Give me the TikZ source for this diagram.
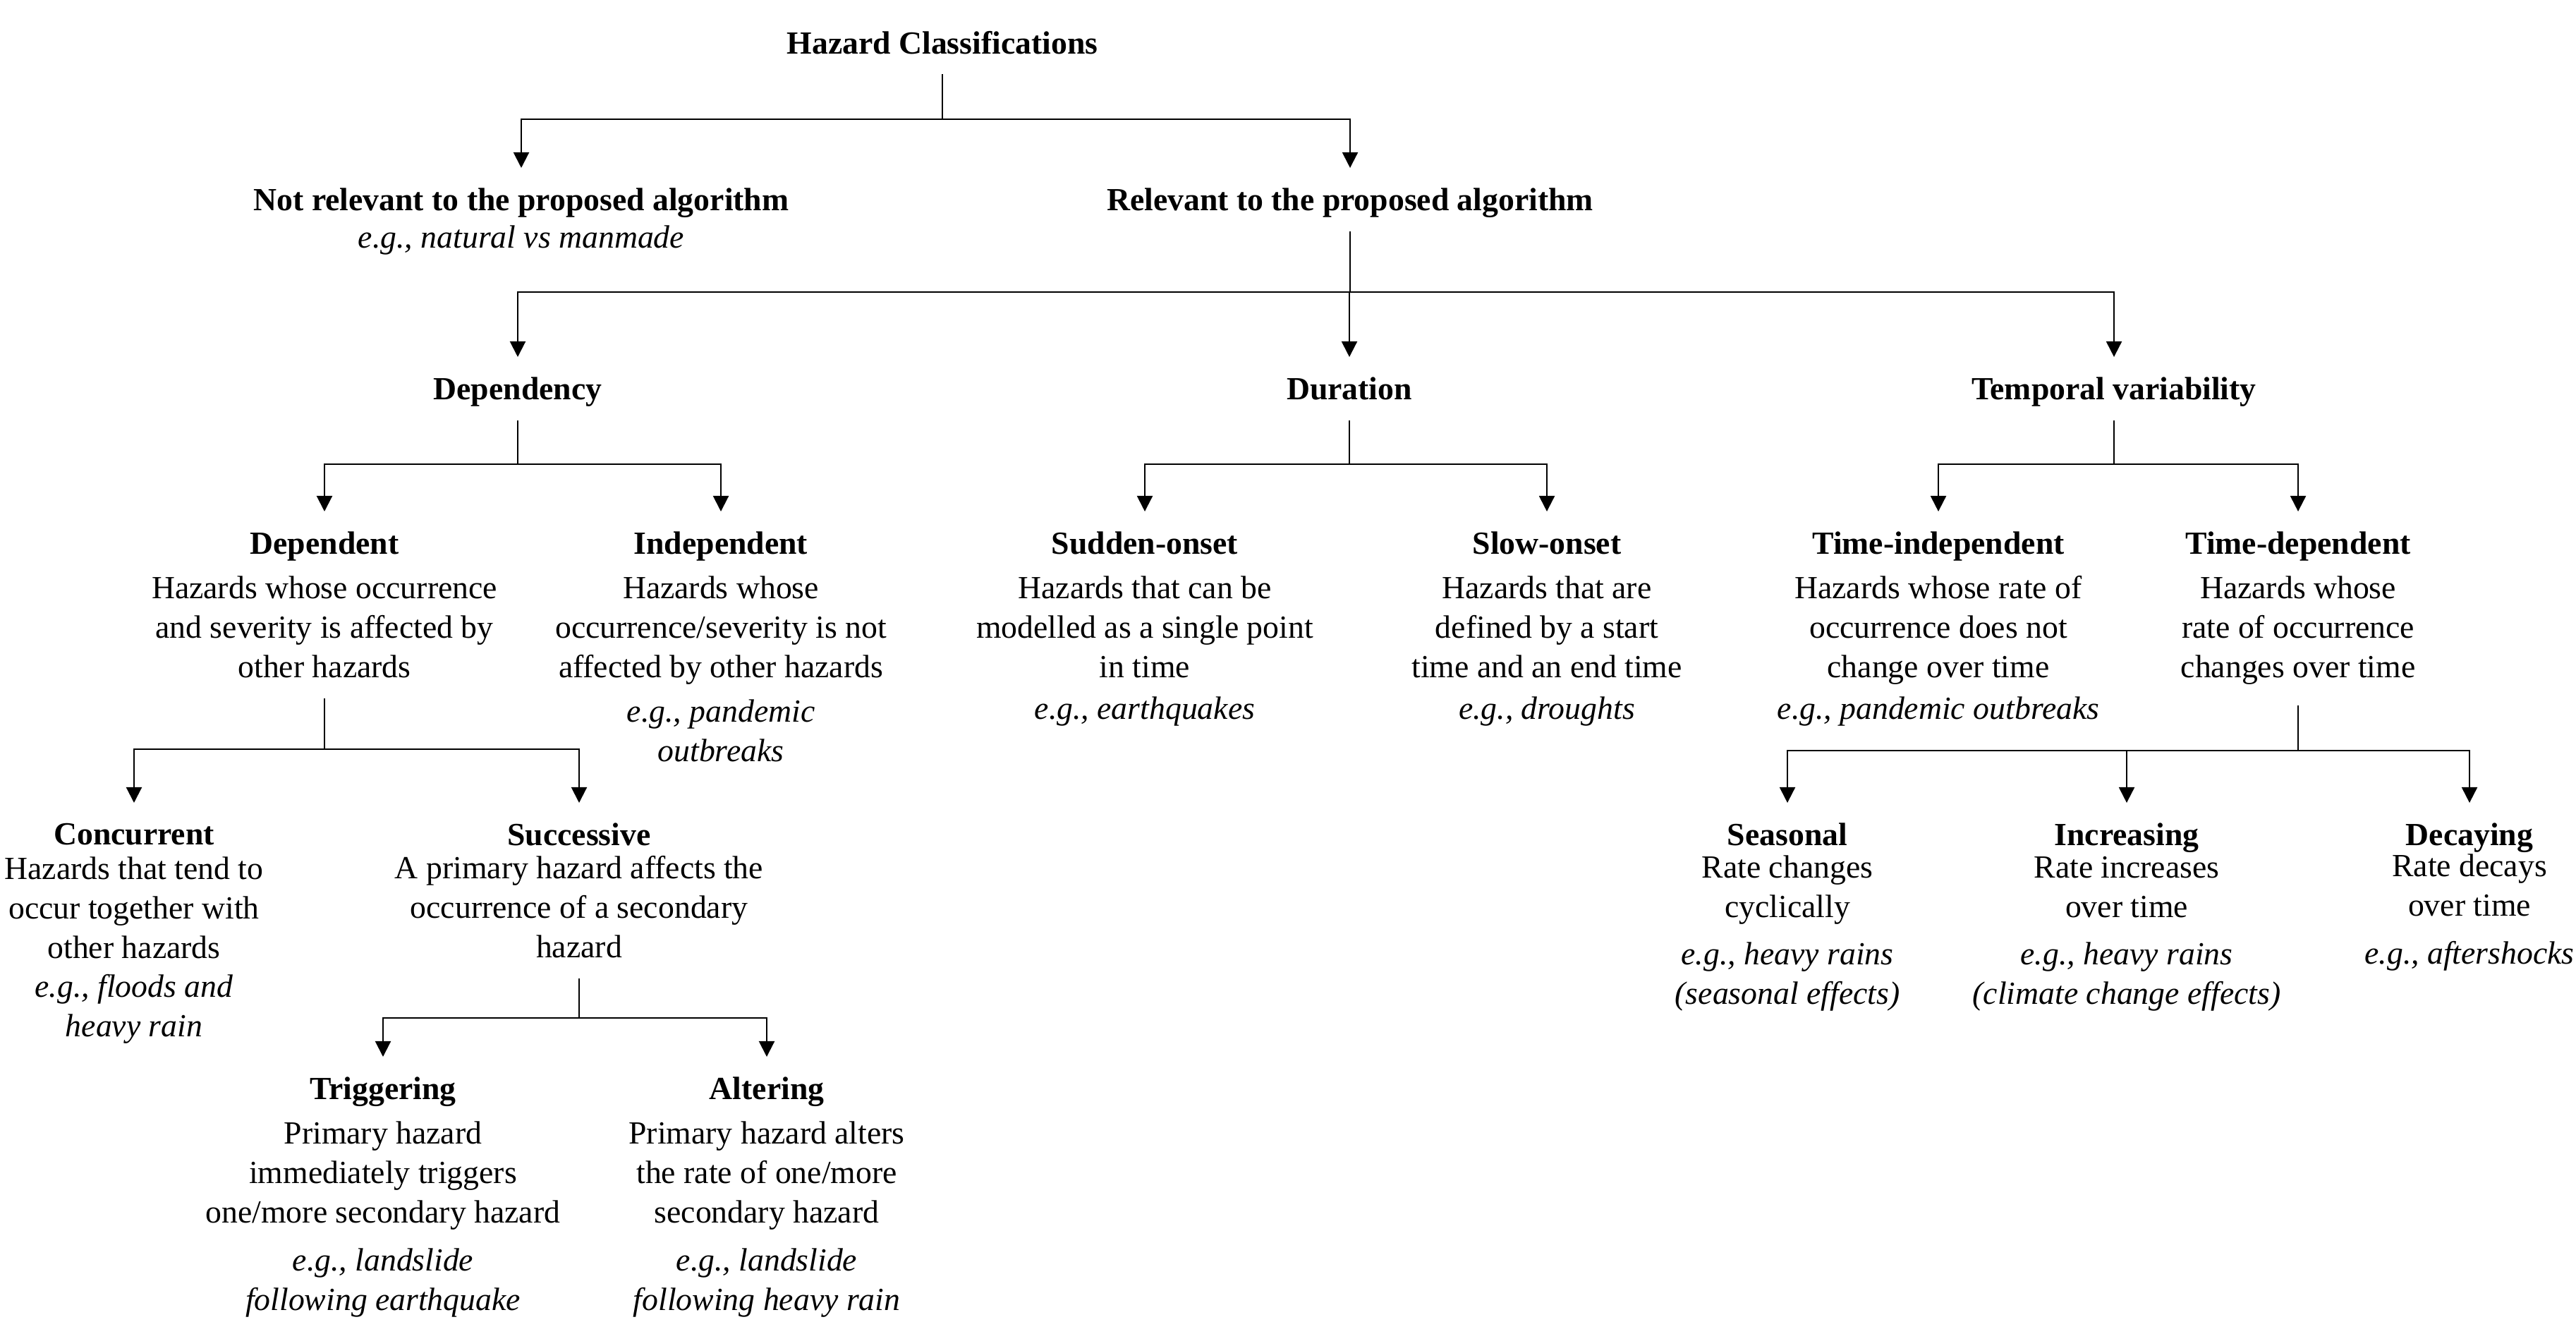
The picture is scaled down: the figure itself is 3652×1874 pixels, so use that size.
\documentclass[tikz,border=0pt]{standalone}
\usepackage{fontspec}
\setmainfont{Liberation Serif}
\usetikzlibrary{arrows.meta}
\begin{document}
\begin{tikzpicture}[x=0.01cm,y=-0.01cm,line width=0.6pt,
  box/.style={align=center,inner xsep=0pt,inner ysep=2.8mm,anchor=north,font=\fontsize{13pt}{15.9pt}\selectfont},
  one/.style={box,text depth=0pt},
  arr/.style={-{Triangle[width=2.2mm,length=2.2mm]}}]
\useasboundingbox (0,0) rectangle (3652,1874);

% level 0-2
\node[one] (root) at (1336,15) {\textbf{Hazard Classifications}};
\node[box] (nrel) at (739,238) {\textbf{Not relevant to the proposed algorithm}\\[-1pt]\textit{e.g., natural vs manmade}};
\node[one] (rel) at (1914,238) {\textbf{Relevant to the proposed algorithm}};
\node[one] (dep) at (734,506) {\textbf{Dependency}};
\node[one] (dur) at (1913,506) {\textbf{Duration}};
\node[one] (tmp) at (2997,506) {\textbf{Temporal variability}};

% level 3
\node[box] (dpt) at (460,725) {\textbf{Dependent}\\[2pt]Hazards whose occurrence\\and severity is affected by\\other hazards};
\node[box] (ind) at (1022,725) {\textbf{Independent}\\[2pt]Hazards whose\\occurrence/severity is not\\affected by other hazards\\[2pt]\textit{e.g., pandemic}\\\textit{outbreaks}};
\node[box] (sud) at (1623,725) {\textbf{Sudden-onset}\\[2pt]Hazards that can be\\modelled as a single point\\in time\\[1pt]\textit{e.g., earthquakes}};
\node[box] (slo) at (2193,725) {\textbf{Slow-onset}\\[2pt]Hazards that are\\defined by a start\\time and an end time\\[1pt]\textit{e.g., droughts}};
\node[box] (tin) at (2748,725) {\textbf{Time-independent}\\[2pt]Hazards whose rate of\\occurrence does not\\change over time\\[1pt]\textit{e.g., pandemic outbreaks}};
\node[box] (tdp) at (3258,725) {\textbf{Time-dependent}\\[2pt]Hazards whose\\rate of occurrence\\changes over time};

% level 4
\node[box] (con) at (190,1138) {\textbf{Concurrent}\\[-2pt]Hazards that tend to\\occur together with\\other hazards\\[0pt]\textit{e.g., floods and}\\\textit{heavy rain}};
\node[box] (suc) at (821,1138) {\textbf{Successive}\\[-2.5pt]A primary hazard affects the\\occurrence of a secondary\\hazard};
\node[box] (sea) at (2534,1138) {\textbf{Seasonal}\\[-3pt]Rate changes\\cyclically\\[3.4pt]\textit{e.g., heavy rains}\\\textit{(seasonal effects)}};
\node[box] (inc) at (3015,1138) {\textbf{Increasing}\\[-3pt]Rate increases\\over time\\[3.4pt]\textit{e.g., heavy rains}\\\textit{(climate change effects)}};
\node[box] (dec) at (3501,1138) {\textbf{Decaying}\\[-3.5pt]Rate decays\\over time\\[3.4pt]\textit{e.g., aftershocks}};

% level 5
\node[box] (trg) at (543,1498) {\textbf{Triggering}\\[2pt]Primary hazard\\immediately triggers\\one/more secondary hazard\\[3.5pt]\textit{e.g., landslide}\\\textit{following earthquake}};
\node[box] (alt) at (1087,1498) {\textbf{Altering}\\[2pt]Primary hazard alters\\the rate of one/more\\secondary hazard\\[3.5pt]\textit{e.g., landslide}\\\textit{following heavy rain}};

% bar heights
\coordinate (y0) at (0,169);
\coordinate (y1) at (0,414);
\coordinate (y2) at (0,658);
\coordinate (y3) at (0,1062);
\coordinate (y4) at (0,1064);
\coordinate (y5) at (0,1443);

% junctions
\coordinate (j0) at (root.south |- y0);
\coordinate (j1) at (rel.south |- y1);
\coordinate (j2a) at (dep.south |- y2);
\coordinate (j2b) at (dur.south |- y2);
\coordinate (j2c) at (tmp.south |- y2);
\coordinate (j3) at (dpt.south |- y3);
\coordinate (j4) at (tdp.south |- y4);
\coordinate (j5) at (suc.south |- y5);

% connectors
\draw (root.south) -- (j0);
\draw[arr] (j0) -| (nrel.north);
\draw[arr] (j0) -| (rel.north);

\draw (rel.south) -- (j1);
\draw[arr] (j1) -| (dep.north);
\draw[arr] (j1) -| (dur.north);
\draw[arr] (j1) -| (tmp.north);

\draw (dep.south) -- (j2a);
\draw[arr] (j2a) -| (dpt.north);
\draw[arr] (j2a) -| (ind.north);

\draw (dur.south) -- (j2b);
\draw[arr] (j2b) -| (sud.north);
\draw[arr] (j2b) -| (slo.north);

\draw (tmp.south) -- (j2c);
\draw[arr] (j2c) -| (tin.north);
\draw[arr] (j2c) -| (tdp.north);

\draw (dpt.south) -- (j3);
\draw[arr] (j3) -| (con.north);
\draw[arr] (j3) -| (suc.north);

\draw (tdp.south) -- (j4);
\draw[arr] (j4) -| (sea.north);
\draw[arr] (j4) -| (inc.north);
\draw[arr] (j4) -| (dec.north);

\draw (suc.south) -- (j5);
\draw[arr] (j5) -| (trg.north);
\draw[arr] (j5) -| (alt.north);
\end{tikzpicture}
\end{document}
